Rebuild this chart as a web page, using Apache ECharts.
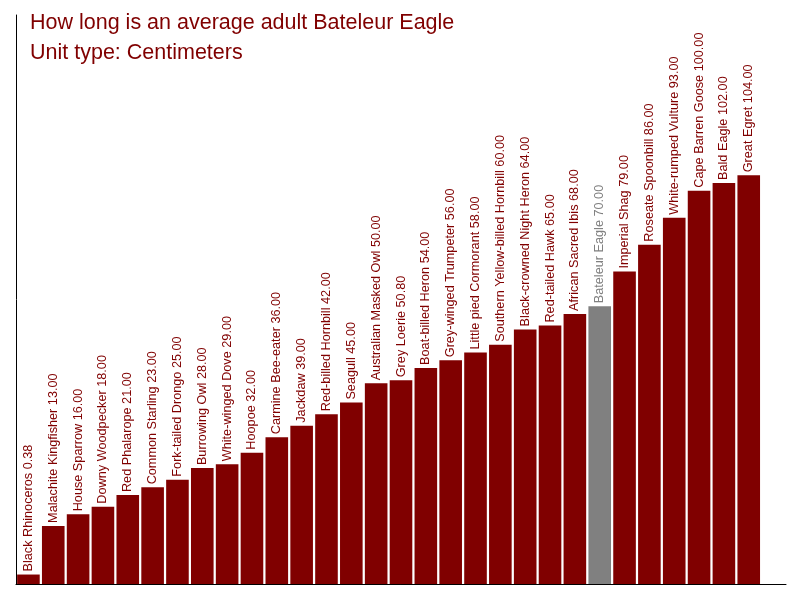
<!DOCTYPE html>
<html>
<head>
<meta charset="utf-8">
<script src="https://cdn.jsdelivr.net/npm/echarts@6/dist/echarts.min.js"></script>
<style>
  html, body { margin: 0; padding: 0; background: #fff; }
  #container { width: 800px; height: 600px; }
</style>
</head>
<body>
<div id="container"></div>
<script>
// 数据
var categories = [
  'Black Rhinoceros', 'Malachite Kingfisher', 'House Sparrow', 'Downy Woodpecker',
  'Red Phalarope', 'Common Starling', 'Fork-tailed Drongo', 'Burrowing Owl',
  'White-winged Dove', 'Hoopoe', 'Carmine Bee-eater', 'Jackdaw',
  'Red-billed Hornbill', 'Seagull', 'Australian Masked Owl', 'Grey Loerie',
  'Boat-billed Heron', 'Grey-winged Trumpeter', 'Little pied Cormorant',
  'Southern Yellow-billed Hornbill', 'Black-crowned Night Heron', 'Red-tailed Hawk',
  'African Sacred Ibis', 'Bateleur Eagle', 'Imperial Shag', 'Roseate Spoonbill',
  'White-rumped Vulture', 'Cape Barren Goose', 'Bald Eagle', 'Great Egret'
]
var lengths = [
  0.38, 13, 16, 18, 21, 23, 25, 28, 29, 32, 36, 39, 42, 45, 50, 50.8,
  54, 56, 58, 60, 64, 65, 68, 70, 79, 86, 93, 100, 102, 104
]
var highlight = 'Bateleur Eagle'

var RED = '#800000'
var GREY = '#808080'

function colorOf(name){
  return name === highlight ? GREY : RED
}

var dom = document.getElementById('container')
var myChart = echarts.init(dom)

var option = {
  animation: false,
  title: {
    text: 'How long is an average adult Bateleur Eagle\nUnit type: Centimeters',
    left: 25,
    top: 3,
    textStyle: {
      color: RED,
      fontFamily: 'Liberation Sans, Arial, sans-serif',
      fontSize: 21.5,
      fontWeight: 'normal',
      lineHeight: 30
    }
  },
  grid: {
    left: 16,
    right: 14,
    top: 15,
    bottom: 16,
    containLabel: false
  },
  xAxis: {
    type: 'category',
    data: categories,
    max: categories.length,
    axisLine: { show: true, onZero: false, lineStyle: { color: '#000', width: 1 } },
    axisTick: { show: false },
    axisLabel: { show: false },
    splitLine: { show: false }
  },
  yAxis: {
    type: 'value',
    min: -2.08,
    max: 145.6,
    startValue: -2.08,
    axisLine: { show: true, lineStyle: { color: '#000', width: 1 } },
    axisTick: { show: false },
    axisLabel: { show: false },
    splitLine: { show: false }
  },
  series: [{
    type: 'bar',
    barCategoryGap: '9%',
    data: lengths.map(function(v, i){
      var c = colorOf(categories[i])
      return {
        value: v,
        itemStyle: { color: c },
        label: { color: c }
      }
    }),
    label: {
      show: true,
      position: 'top',
      rotate: 90,
      align: 'left',
      verticalAlign: 'middle',
      distance: 3,
      fontFamily: 'Liberation Sans, Arial, sans-serif',
      fontSize: 12.7,
      formatter: function(p){
        return categories[p.dataIndex] + ' ' + lengths[p.dataIndex].toFixed(2)
      }
    }
  }]
}
myChart.setOption(option)
</script>
</body>
</html>
